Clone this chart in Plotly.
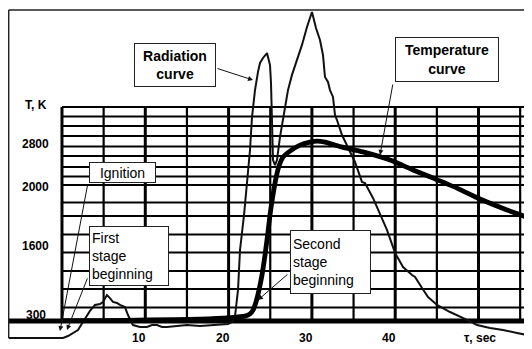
import plotly.graph_objects as go

# ---- data (t in seconds, y in chart grid units: baseline=0, grid top=100) ----
rad_t = [-6.4, -1.44, -0.48, 0.12, 0.72, 1.32, 1.92, 2.52, 3.0, 3.36, 3.96, 4.56, 4.92, 5.40, 5.76,
         6.12, 6.60, 6.96, 7.56, 7.92, 8.52, 9.36, 10.2, 10.8, 11.4, 12.0, 12.6, 13.57, 15.0, 16.57,
         18.37, 19.93, 20.41, 20.77, 21.13, 21.37, 21.85, 22.21, 22.57, 22.81, 23.17, 23.53, 23.77,
         24.13, 24.37, 24.61, 24.73, 24.97, 25.09, 25.21, 25.33, 25.57, 25.81, 26.17, 26.65, 27.13,
         27.61, 28.21, 28.81, 29.41, 29.77, 30.01, 30.25, 30.49, 30.97, 31.33, 31.57, 31.93, 32.17,
         32.53, 32.77, 33.01, 33.61, 34.57, 35.17, 36.01, 36.37, 37.33, 38.18, 39.02, 39.98, 40.94,
         42.02, 42.38, 43.22, 43.94, 45.02, 46.58, 48.62, 49.82, 51.38, 52.94, 54.62, 56.42]
rad_y = [-7.9, -7.9, -7.9, -7.9, -7.0, -5.6, -4.2, -0.5, 2.3, 4.7, 7.5, 7.9, 8.9, 12.1, 10.7,
         8.9, 8.4, 7.5, 6.5, 2.8, -1.9, -2.8, -2.8, -1.9, -1.9, -2.8, -2.8, -2.3, -1.9, -2.3,
         -1.9, -1.4, -0.5, 2.3, 14.5, 33.2, 49.5, 64.5, 79.9, 95.3, 107.9, 116.4, 120.6,
         122.9, 124.3, 125.2, 123.4, 119.6, 111.2, 87.9, 75.2, 72.9, 75.2, 86.0, 96.3, 107.9,
         115.0, 122.0, 129.0, 137.4, 142.1, 144.4, 140.7, 136.9, 131.3, 124.3, 114.0, 111.7, 107.9,
         104.7, 96.3, 93.9, 86.9, 79.0, 74.3, 65.0, 64.5, 57.5, 49.5, 42.5, 31.8, 25.2,
         21.5, 20.6, 15.4, 11.2, 7.5, 4.2, 0.5, -1.9, -3.3, -4.2, -5.6, -7.0]

temp_t = [0, 4.56, 10.56, 16.57, 20.17, 21.97, 22.57, 22.93, 23.29, 23.65, 24.01, 24.37, 24.73,
          24.97, 25.33, 25.69, 26.05, 26.53, 27.37, 28.57, 29.77, 30.61, 31.57, 33.37, 36.13,
          39.38, 42.14, 44.54, 47.42, 50.18, 53.42, 56.42]
temp_y = [0.2, 0.2, 0.5, 0.9, 1.6, 2.3, 3.3, 5.1, 8.9, 14.5, 21.5, 30.8, 41.6,
          49.5, 58.9, 66.8, 72.4, 76.6, 79.4, 82.2, 83.6, 84.1, 83.6, 81.5, 79.0,
          75.2, 70.6, 66.8, 62.1, 57.0, 51.9, 47.7]

x_ticks = [10, 20, 30, 40]
x_tick_labels = ["10", "20", "30", "40"]
y_label_pos = [100.9, 82.6, 62.8, 35.0, 2.8]
y_labels = ["T, K", "2800", "2000", "1600", "300"]

grid_t = [0, 5, 10, 15, 20, 25, 30, 35, 40, 45, 50, 55]
grid_y = [100, 95.56, 91.12, 86.45, 81.54, 77.10, 71.96, 67.52, 63.55,
          55.37, 49.07, 40.42, 32.01, 23.36, 14.95, 6.31]

# page body has an 8px margin, so the figure covers the window from (8, 8)
X0, X1 = -6.48, 56.42
Y0, Y1 = -13.08, 146.26
FONT = "Arial, Liberation Sans, sans-serif"

fig = go.Figure()

shapes = []
for t in grid_t:
    shapes.append(dict(type="line", x0=t, x1=t, y0=0, y1=100, layer="below",
                       line=dict(color="black", width=3 if t % 10 == 0 else 2.2)))
for y in grid_y:
    shapes.append(dict(type="line", x0=0, x1=X1, y0=y, y1=y, layer="below",
                       line=dict(color="black", width=2)))
# thick baseline
shapes.append(dict(type="line", x0=X0, x1=X1, y0=0, y1=0, layer="below",
                   line=dict(color="black", width=5)))
# outer frame (top and left)
shapes.append(dict(type="line", x0=-6.4, x1=X1, y0=145.3, y1=145.3, layer="below",
                   line=dict(color="#222", width=1.5)))
shapes.append(dict(type="line", x0=-6.4, x1=-6.4, y0=145.3, y1=-7.9, layer="below",
                   line=dict(color="#222", width=1.5)))

fig.add_trace(go.Scatter(x=rad_t, y=rad_y, mode="lines",
                         line=dict(color="#111", width=2), hoverinfo="skip"))
fig.add_trace(go.Scatter(x=temp_t, y=temp_y, mode="lines",
                         line=dict(color="black", width=4.8, shape="spline", smoothing=0.6),
                         hoverinfo="skip"))

ann = []
for x, lab in zip(x_ticks, x_tick_labels):
    ann.append(dict(x=x, y=-7.94, text="<b>%s</b>" % lab, showarrow=False, xshift=-6,
                    font=dict(family=FONT, size=12, color="black"), xanchor="center", yanchor="middle"))
ann.append(dict(x=50.18, y=-7.94, text="<b>τ, sec</b>", showarrow=False,
                font=dict(family=FONT, size=12, color="black"), xanchor="center", yanchor="middle"))
for y, lab in zip(y_label_pos, y_labels):
    ann.append(dict(x=-3.12, y=y, text="<b>%s</b>" % lab, showarrow=False,
                    font=dict(family=FONT, size=12, color="black"), xanchor="center", yanchor="middle"))

def box(x, y, text, w, h, align="center", pad=4, size=14):
    return dict(x=x, y=y, text=text, showarrow=False, xanchor="center", yanchor="middle",
                width=w, height=h, align=align, bgcolor="white", bordercolor="#222",
                borderwidth=1, borderpad=pad,
                font=dict(family=FONT, size=size, color="black"))

ann.append(box(13.57, 119.6, "<b>Radiation<br>curve</b>", 72, 34))
ann.append(box(46.22, 122.2, "<b>Temperature<br>curve</b>", 94, 35))
ann.append(box(7.26, 69.4, "Ignition", 63, 17, pad=1))
ann.append(box(8.04, 30.6, "First<br>stage<br>beginning", 74, 54, align="left", pad=2))
ann.append(box(32.23, 27.6, "Second<br>stage<br>beginning", 75, 58, align="left", pad=2))

def arrow(tx, ty, hx, hy):
    return dict(x=hx, y=hy, ax=tx, ay=ty, axref="x", ayref="y", xref="x", yref="y",
                text="", showarrow=True, arrowhead=2, arrowsize=1, arrowwidth=1,
                arrowcolor="#111", standoff=0, startstandoff=0)

ann = [arrow(18.49, 118.2, 22.93, 112.6),
       arrow(39.74, 111.2, 38.18, 77.6),
       arrow(3.12, 64.5, -0.24, -4.7),
       arrow(3.12, 20.6, 0.6, -4.2),
       arrow(27.25, 22.4, 23.53, 9.8)] + ann

fig.update_layout(
    width=524, height=341, margin=dict(l=0, r=0, t=0, b=0),
    paper_bgcolor="white", plot_bgcolor="white", showlegend=False,
    xaxis=dict(range=[X0, X1], visible=False, fixedrange=True),
    yaxis=dict(range=[Y0, Y1], visible=False, fixedrange=True),
    shapes=shapes, annotations=ann,
)

fig.write_html("out.html")
